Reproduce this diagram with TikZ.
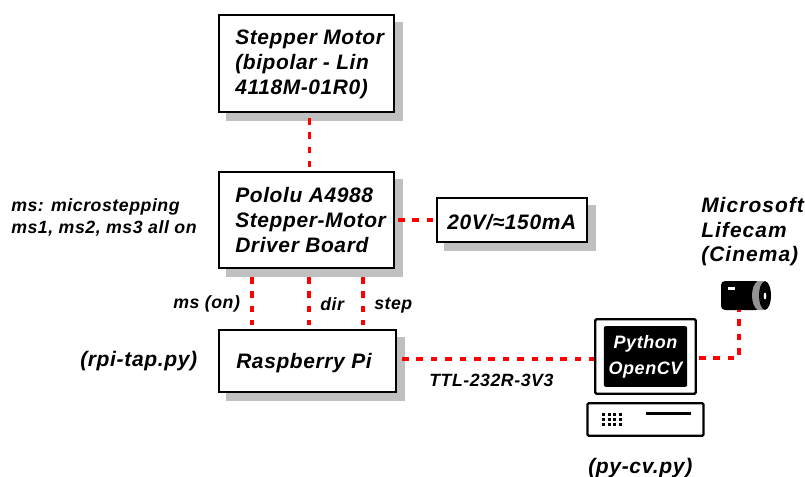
\documentclass[tikz,border=0pt]{standalone}
\usepackage{fontspec}
\setmainfont{Liberation Sans}[LetterSpace=3]
\usetikzlibrary{calc}
\definecolor{shadowgray}{RGB}{192,192,192}
\tikzset{
  x=0.75pt,y=-0.75pt,
  every node/.style={font=\bfseries\itshape\fontsize{15.7}{18.4}\selectfont,inner sep=0pt},
  lnk/.style={draw=red,line width=2.4pt,dash pattern=on 5pt off 5.8pt},
  shad/.style={fill=shadowgray,draw=none},
  lab/.style={anchor=base west,align=left},
  small/.style={font=\bfseries\itshape\fontsize{13.3}{18}\selectfont},
  mid/.style={font=\bfseries\itshape\fontsize{15.8}{18}\selectfont},
  camtxt/.style={font=\bfseries\itshape\fontsize{15.7}{18}\selectfont\addfontfeature{LetterSpace=5}},
  scrtxt/.style={anchor=base,text=white,font=\bfseries\itshape\fontsize{13.5}{15}\selectfont},
}
\newcommand{\pxbox}[5]{% name x1 y1 x2 y2
  \fill[shad] (#2+8,#3+8) rectangle (#4+8,#5+8);
  \node[draw=black,line width=1.7pt,fill=white,minimum width={(#4-#2)*0.75pt-1.7pt},minimum height={(#5-#3)*0.75pt-1.7pt}] (#1) at ({(#2+#4)/2},{(#3+#5)/2}) {};
}
\begin{document}
\begin{tikzpicture}
\useasboundingbox (0,0) rectangle (805,477);
\fill[white] (0,0) rectangle (805,477);
% boxes
\pxbox{motor}{218}{14}{395}{113}
\pxbox{driver}{218}{171}{395}{269}
\pxbox{pi}{218}{329}{397}{393}
\pxbox{power}{436}{197}{588}{243}
% box texts
\node[lab] (tm1) at (235,45) {Stepper Motor};
\node[lab] (tm2) at (235,70) {(bipolar - Lin};
\node[lab] (tm3) at (235,95) {4118M-01R0)};
\node[lab] (td1) at (235,202) {Pololu A4988};
\node[lab] (td2) at (235,227) {Stepper-Motor};
\node[lab] (td3) at (235,252) {Driver Board};
\node[lab] (tp) at (236,368) {Raspberry Pi};
\node[lab] (tw) at (447,229) {20V/≈150mA};
% side labels
\node[lab,small] (n1) at (11,211) {ms: microstepping};
\node[lab,small] (n2) at (11,233) {ms1, ms2, ms3 all on};
\node[lab,small] (l1) at (173,308) {ms (on)};
\node[lab,small] (l2) at (320,310) {dir};
\node[lab,small] (l3) at (374,309) {step};
\node[lab,mid] (rt) at (80,366) {(rpi-tap.py)};
\node[lab,small] (ttl) at (429,386) {TTL-232R-3V3};
\node[lab,mid] (cv) at (588,473) {(py-cv.py)};
\node[lab,camtxt] (c1) at (701,212) {Microsoft};
\node[lab,camtxt] (c2) at (701,237) {Lifecam};
\node[lab,camtxt] (c3) at (701,261) {(Cinema)};
% computer
\node[draw=black,line width=1.7pt,fill=white,rounded corners=1pt,minimum width=75.5pt,minimum height=56pt] (mon) at (645.5,356.5) {};
\node[fill=black,rounded corners=1.5pt,minimum width=62.5pt,minimum height=45.5pt] (scr) at (645.5,356.5) {};
\node[scrtxt] (py) at (645.5,348) {Python};
\node[scrtxt] (ocv) at (645.5,374) {OpenCV};
\node[draw=black,line width=1.7pt,fill=white,rounded corners=1pt,minimum width=87pt,minimum height=24.5pt] (base) at (645.5,419.5) {};
\foreach \i in {0,1,2,3} \foreach \j in {0,1,2}
  \fill[black] ({602+5.7*\i},{413+5*\j}) rectangle ++(3,3);
\fill[black] (646,412) rectangle (691,415);
% camera
\fill[black,rounded corners=3pt] (721,281) rectangle (760,310);
\fill[gray!85!white] (758,281) .. controls (750,285) and (750,306) .. (758,310) -- (764,310) -- (764,281) -- cycle;
\fill[black] (765,281) .. controls (757,283) and (757,308) .. (765,310) .. controls (773,308) and (773,283) .. (765,281) -- cycle;
\fill[white] (728,287) rectangle (735,289.5);
\fill[white] (765,296) ellipse (1.3 and 3.4);
\node[minimum size=0pt] (cam) at (739,310) {};
% connectors
\draw[lnk] ($(motor.south)+(3,5)$) -- ($(driver.north)+(3,-4)$);
\draw[lnk] ($(driver.south)+(-54.5,8)$) -- ($(driver.south)+(-54.5,56)$);
\draw[lnk] ($(driver.south)+(2.5,8)$) -- ($(driver.south)+(2.5,56)$);
\draw[lnk] ($(driver.south)+(56.5,8)$) -- ($(driver.south)+(56.5,56)$);
\draw[lnk] ($(driver.east)+(3,0)$) -- ($(power.west)+(-2,0)$);
\coordinate (piout) at ($(pi.east)+(5,-2)$);
\draw[lnk] (piout) -- (piout -| mon.west);
\coordinate (monout) at ($(mon.east)+(2,1.5)$);
\draw[lnk] (monout) -| (cam);
\end{tikzpicture}
\end{document}
